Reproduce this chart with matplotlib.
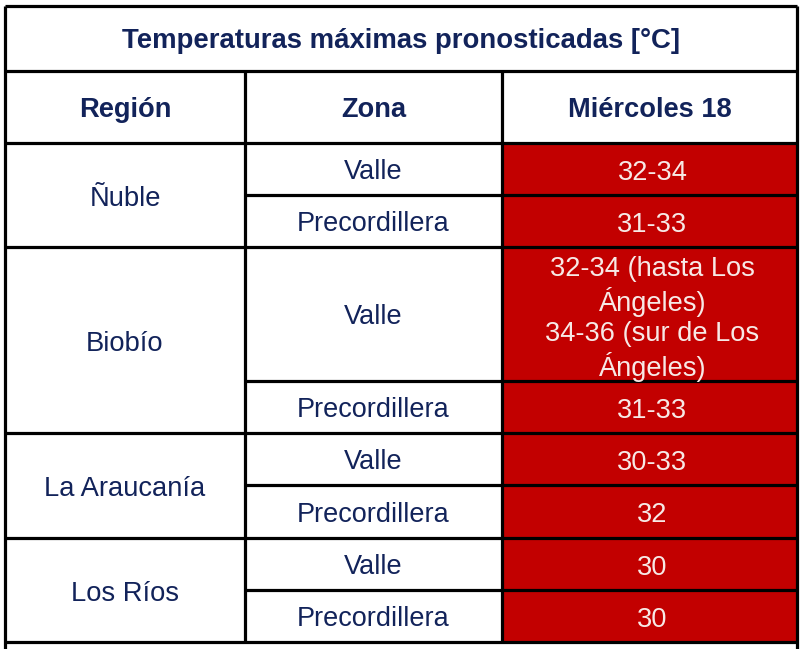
"""Forecast max temperature table, drawn on a pixel-sized axes."""
import matplotlib
matplotlib.use("Agg")
import matplotlib.pyplot as plt

TITLE = "Temperaturas máximas pronosticadas [°C]"
HEADERS = ["Región", "Zona", "Miércoles 18"]
REGIONS = ["Ñuble", "Biobío", "La Araucanía", "Los Ríos"]
ZONES = ["Valle", "Precordillera"]
TEMPS = [
    "32-34", "31-33",
    "32-34 (hasta Los\nÁngeles)\n34-36 (sur de Los\nÁngeles)", "31-33",
    "30-33", "32",
    "30", "30",
]

# layout, in image pixels
W, H = 800, 649
LEFT, RIGHT = 5, 797
COL1, COL2 = 245, 502
TOP, TITLE_BOT, HEAD_BOT = 6, 71, 143
ROW_H = [52, 52, 134, 52, 52, 53, 52, 52]

NAVY = "#12235a"
RED = "#c20000"
CELL_TXT = "#f7e9e6"
LW = 2.3

plt.rcParams["font.family"] = ["Liberation Sans", "DejaVu Sans"]

fig = plt.figure(figsize=(W / 100, H / 100), dpi=100)
ax = fig.add_axes([0, 0, 1, 1])
ax.set_xlim(0, W)
ax.set_ylim(H, 0)
ax.axis("off")

# row boundaries
ys = [HEAD_BOT]
for h in ROW_H:
    ys.append(ys[-1] + h)
cols_mid = [(LEFT + COL1) / 2, (COL1 + COL2) / 2, (COL2 + RIGHT) / 2]

ax.text((LEFT + RIGHT) / 2, 41, TITLE, ha="center", va="center",
        fontsize=19.8, fontweight="bold", color=NAVY)
for x, label in zip(cols_mid, HEADERS):
    ax.text(x, 110, label, ha="center", va="center",
            fontsize=19.6, fontweight="bold", color=NAVY)

for i, temp in enumerate(TEMPS):
    ax.fill_between([COL2, RIGHT], ys[i], ys[i + 1], color=RED, lw=0)
    mid = (ys[i] + ys[i + 1]) / 2
    ax.text(cols_mid[1], mid + 3, ZONES[i % 2], ha="center", va="center",
            fontsize=19.5, color=NAVY)
    dy = 5 if "\n" in temp else 4
    ax.text(cols_mid[2] + 3, mid + dy, temp, ha="center", va="center",
            fontsize=19.6, color=CELL_TXT, linespacing=1.2)

for i, region in enumerate(REGIONS):
    mid = (ys[2 * i] + ys[2 * i + 2]) / 2
    ax.text(cols_mid[0], mid + 4, region, ha="center", va="center",
            fontsize=19.7, color=NAVY)

# grid lines
ax.hlines([TOP, TITLE_BOT, HEAD_BOT], LEFT, RIGHT, color="black", lw=LW)
for i in range(1, len(ys)):
    x0 = COL1 if i % 2 else LEFT
    ax.hlines(ys[i], x0, RIGHT, color="black", lw=LW)
ax.vlines([LEFT, RIGHT], TOP, H, color="black", lw=LW)
ax.vlines([COL1, COL2], TITLE_BOT, ys[-1], color="black", lw=LW)

fig.savefig("out.png", dpi=100)
